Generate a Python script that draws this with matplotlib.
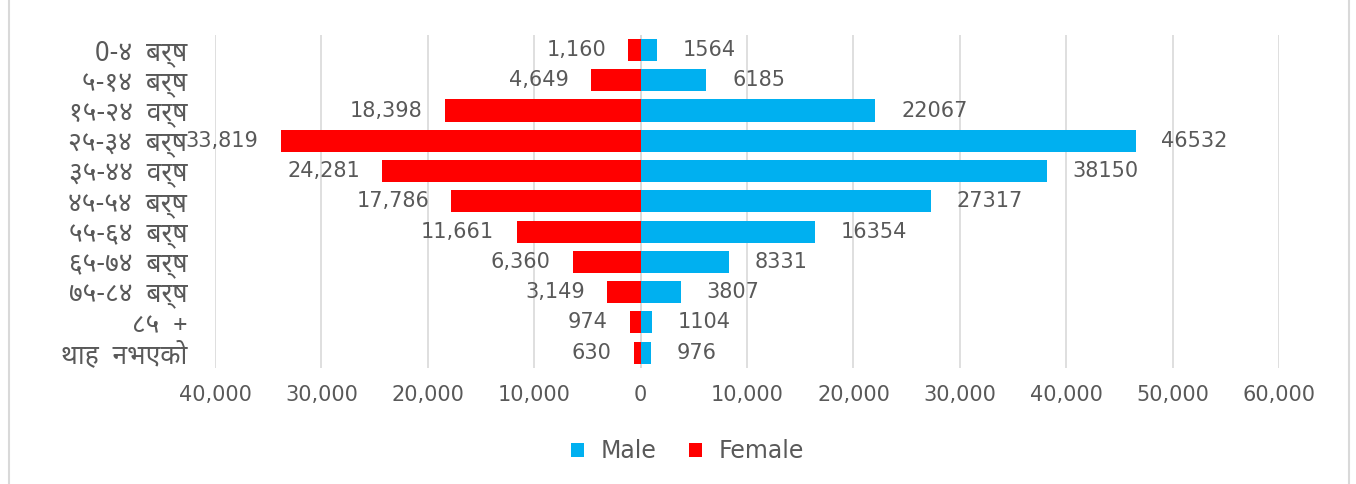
import matplotlib
matplotlib.use("Agg")
import matplotlib.pyplot as plt
from matplotlib import font_manager as fm
from matplotlib.ticker import FuncFormatter

categories = ["0-४  बर्ष", "५-१४  बर्ष", "१५-२४  वर्ष", "२५-३४  बर्ष", "३५-४४  वर्ष",
              "४५-५४  बर्ष", "५५-६४  बर्ष", "६५-७४  बर्ष", "७५-८४  बर्ष", "८५  +", "थाह  नभएको"]
male = [1564, 6185, 22067, 46532, 38150, 27317, 16354, 8331, 3807, 1104, 976]
female = [1160, 4649, 18398, 33819, 24281, 17786, 11661, 6360, 3149, 974, 630]
xticks = [-40000, -30000, -20000, -10000, 0, 10000, 20000, 30000, 40000, 50000, 60000]

names = {f.name for f in fm.fontManager.ttflist}
deva = None
for cand in ["Noto Sans Devanagari", "Noto Sans Devanagari UI", "Mukta", "Hind", "Poppins"]:
    if cand in names:
        deva = cand
        break
fam = ([deva] if deva else []) + ["DejaVu Sans"]

txt = "#595959"
blue = "#00b0f0"
red = "#ff0000"

fig = plt.figure(figsize=(13.56, 4.84), dpi=100)
ax = fig.add_axes([0.1586, 0.24, 0.7847, 0.688])

y = list(range(len(categories)))
ax.barh(y, male, height=0.73, color=blue, label="Male", zorder=3)
ax.barh(y, [-v for v in female], height=0.73, color=red, label="Female", zorder=3)

for yi, v in zip(y, male):
    ax.text(v + 2400, yi, str(v), va="center", ha="left", fontsize=15, color=txt,
            family="DejaVu Sans", zorder=4)
for yi, v in zip(y, female):
    ax.text(-v - 2100, yi, f"{v:,}", va="center", ha="right", fontsize=15, color=txt,
            family="DejaVu Sans", zorder=4)

ax.set_xlim(-40000, 60000)
ax.set_ylim(len(categories) - 0.5, -0.5)
ax.set_xticks(xticks)
ax.xaxis.set_major_formatter(FuncFormatter(lambda v, p: f"{abs(int(v)):,}"))
ax.set_yticks(y)
ax.set_yticklabels(categories, family=fam, fontsize=19, color=txt)
for lab in ax.get_xticklabels():
    lab.set_fontsize(15)
    lab.set_color(txt)
    lab.set_family("DejaVu Sans")
ax.tick_params(axis="both", length=0)
ax.tick_params(axis="x", pad=12)
ax.tick_params(axis="y", pad=20)
ax.grid(axis="x", color="#d9d9d9", linewidth=1.2, zorder=0)
for s in ax.spines.values():
    s.set_visible(False)
ax.axvline(0, color="#d9d9d9", linewidth=1.2, zorder=2)

handles, labels = ax.get_legend_handles_labels()
leg = fig.legend(handles, labels, loc="center", bbox_to_anchor=(0.507, 0.068), ncol=2,
                 frameon=False, fontsize=17, handlelength=0.55, handleheight=0.55,
                 columnspacing=1.4, handletextpad=0.7, labelcolor=txt)

# chart border (left/right edges visible)
fig.add_artist(plt.Line2D([0.0065, 0.0065], [0, 1], color="#d9d9d9", linewidth=1.5,
                          transform=fig.transFigure))
fig.add_artist(plt.Line2D([0.9948, 0.9948], [0, 1], color="#d9d9d9", linewidth=1.5,
                          transform=fig.transFigure))

fig.savefig("out.png", dpi=100)
